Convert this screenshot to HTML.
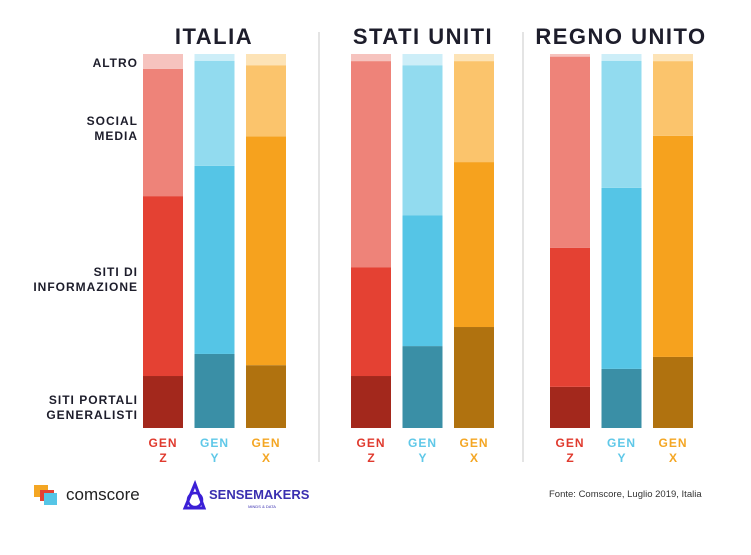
<!DOCTYPE html>
<html><head><meta charset="utf-8"><style>
body{margin:0;background:#fff;width:751px;height:550px;overflow:hidden;font-family:"Liberation Sans",sans-serif}
</style></head><body>
<svg id="chart" width="751" height="550" xmlns="http://www.w3.org/2000/svg"></svg>
<script>
const countries=["ITALIA","STATI UNITI","REGNO UNITO"];
const generations=["Z","Y","X"];
const segments=["SITI PORTALI GENERALISTI","SITI DI INFORMAZIONE","SOCIAL MEDIA","ALTRO"];
const portali=[[13.9,19.8,16.8],[13.9,21.9,27.0],[11.0,15.8,19.0]];
const informazione=[[48.1,50.3,61.2],[29.1,35.0,44.1],[37.2,48.4,59.1]];
const social=[[34.0,28.1,19.0],[55.1,40.1,27.0],[51.1,34.0,20.0]];
const altro=[[4.0,1.8,3.0],[1.9,3.0,1.9],[0.7,1.8,1.9]];

const colors={Z:["#a3281c","#e44133","#ee8379","#f6c3be"],Y:["#3a8fa6","#55c5e6","#92dbef","#cdeef8"],X:["#b0720f","#f6a21e","#fbc46c","#fde3b6"]};
const labelColors={Z:"#e03a2e",Y:"#5fc8e8",X:"#f4a623"};
const svg=document.getElementById('chart');
const NS="http://www.w3.org/2000/svg";
function mk(t,a,txt){const e=document.createElementNS(NS,t);for(const k in a)e.setAttribute(k,a[k]);if(txt!==undefined)e.textContent=txt;svg.appendChild(e);return e;}
const top0=54,bottom0=428;
function y(v){return bottom0-(v/100)*(bottom0-top0);}
const groupX=[143,351,550],barStep=51.5,barW=40;
const centers=[214,423,621];
countries.forEach((c,ci)=>{
  const t=mk('text',{x:centers[ci],y:44,'text-anchor':'middle','font-size':22,'font-weight':'bold','letter-spacing':'1.5',fill:'#1d1d2b'},c);
  
  
  generations.forEach((g,gi)=>{
    const x=groupX[ci]+gi*barStep;
    const vals=[portali[ci][gi],informazione[ci][gi],social[ci][gi],altro[ci][gi]];
    let cum=0;
    vals.forEach((v,si)=>{
      const r=mk('rect',{x:x,y:y(cum+v),width:barW,height:y(cum)-y(cum+v),fill:colors[g][si]});
      
      
      cum+=v;
    });
    const l1=mk('text',{x:x+barW/2,y:447,'text-anchor':'middle','font-size':12,'font-weight':'bold','letter-spacing':'1',fill:labelColors[g]},'GEN');
    
    
    const l2=mk('text',{x:x+barW/2,y:462,'text-anchor':'middle','font-size':12,'font-weight':'bold',fill:labelColors[g]},g);
    
    
  });
});
[319,523].forEach(x=>{const l=mk('line',{x1:x,y1:32,x2:x,y2:462,stroke:'#dcdcdc','stroke-width':1.5});

});
const segLabels=[["SITI PORTALI","GENERALISTI",404],["SITI DI","INFORMAZIONE",276],["SOCIAL","MEDIA",125],["ALTRO",null,67]];
segLabels.forEach(s=>{
  const t1=mk('text',{x:138,y:s[2],'text-anchor':'end','font-size':12,'font-weight':'bold','letter-spacing':'1',fill:'#1d1d2b'},s[0]);
  
  
  if(s[1]){const t2=mk('text',{x:138,y:s[2]+15,'text-anchor':'end','font-size':12,'font-weight':'bold','letter-spacing':'1',fill:'#1d1d2b'},s[1]);
  
  }
});
// logos
mk('rect',{x:34,y:485,width:14,height:12,fill:'#f4a623'});
mk('rect',{x:40,y:490,width:14,height:11,fill:'#e44133'});
mk('rect',{x:44,y:493,width:13,height:12,fill:'#55c5e6'});
const cs=mk('text',{x:66,y:500,'font-size':17,fill:'#222'},'comscore');


mk('path',{d:'M195 484 L185 508 L204 508 Z',fill:'none',stroke:'#3b1fd6','stroke-width':3});
mk('circle',{cx:195,cy:500,r:7,fill:'none',stroke:'#3b1fd6','stroke-width':2.5});
const sm=mk('text',{x:209,y:499,'font-size':13,'font-weight':'bold',fill:'#3a2fb0'},'SENSEMAKERS');


mk('text',{x:262,y:508,'font-size':4,fill:'#3a2fb0','text-anchor':'middle'},'MINDS & DATA');
const src=mk('text',{x:549,y:497,'font-size':9.5,fill:'#333'},'Fonte: Comscore, Luglio 2019, Italia');


</script>
</body></html>
